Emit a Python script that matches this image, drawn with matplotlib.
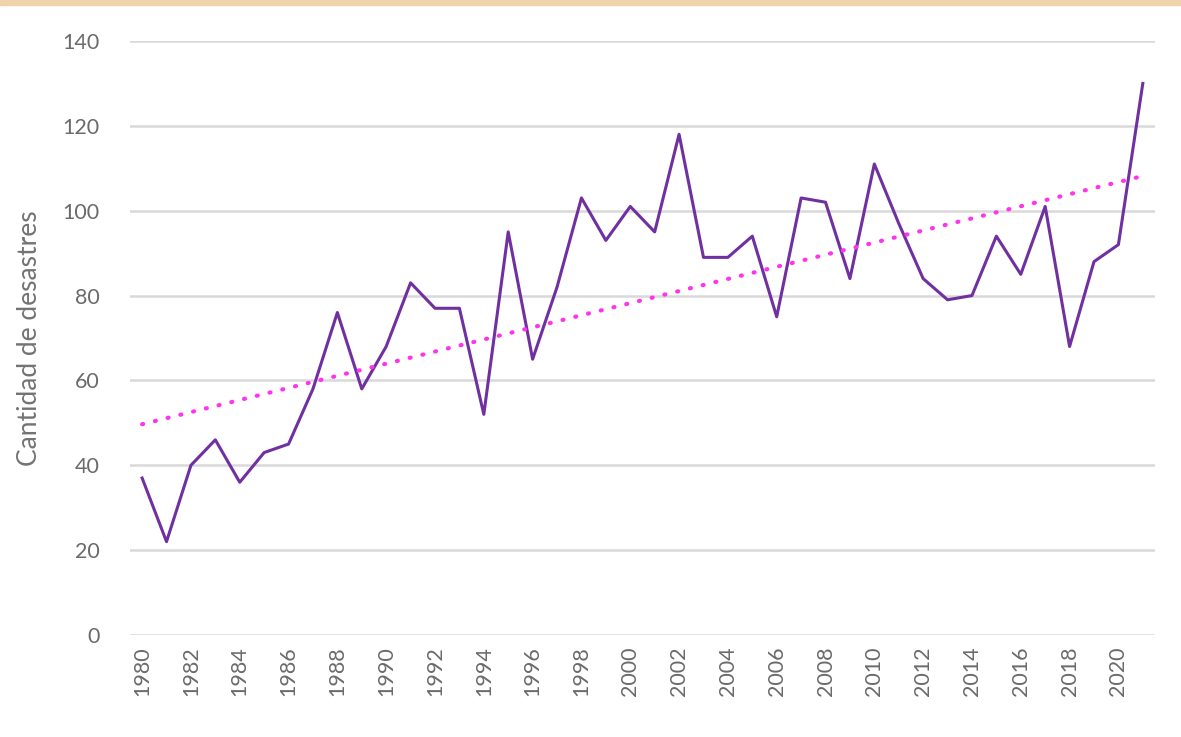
import matplotlib
matplotlib.use("Agg")
import matplotlib.pyplot as plt
import numpy as np

years = list(range(1980, 2022))
disasters = [37, 22, 40, 46, 36, 43, 45, 58, 76, 58, 68, 83, 77, 77, 52, 95, 65, 82,
             103, 93, 101, 95, 118, 89, 89, 94, 75, 103, 102, 84, 111, 97, 84, 79, 80,
             94, 85, 101, 68, 88, 92, 130]
y_ticks = [0, 20, 40, 60, 80, 100, 120, 140]
y_label = "Cantidad de desastres"

plt.rcParams['font.family'] = ['Lato', 'DejaVu Sans']
text_color = '#6a6a6a'

fig = plt.figure(figsize=(11.81, 7.37), dpi=100)
ax = fig.add_axes([0.110, 0.1384, 0.868, 0.806])

x = np.arange(len(years))
ax.plot(x, disasters, color='#7030A0', lw=2.2, zorder=3)

# linear trendline
coef = np.polyfit(x, disasters, 1)
ax.plot(x, np.polyval(coef, x), color='#FF33EE', lw=3.0, ls=(0, (0.25, 2.9)),
        dash_capstyle='round', zorder=4)

ax.set_xlim(-0.5, len(years) - 0.5)
ax.set_ylim(0, 140)
ax.set_yticks(y_ticks)
ax.set_xticks(x[::2])
ax.set_xticklabels([str(y) for y in years[::2]], rotation=90)
ax.grid(axis='y', color='#d9d9d9', lw=1.8)
ax.set_axisbelow(True)
for s in ax.spines.values():
    s.set_visible(False)
ax.tick_params(axis='both', length=0, colors=text_color, labelsize=15.5)
ax.tick_params(axis='y', pad=22)
ax.tick_params(axis='x', pad=8)
ax.set_ylabel(y_label, color='#737373', fontsize=19)
ax.yaxis.set_label_coords(-0.086, 0.5)

# thin decorative strip at top edge
fig.patches.append(plt.Rectangle((0, 0.993), 1, 0.007, transform=fig.transFigure,
                                 color='#EFD3AA', zorder=0))

fig.savefig("out.png", dpi=100)
